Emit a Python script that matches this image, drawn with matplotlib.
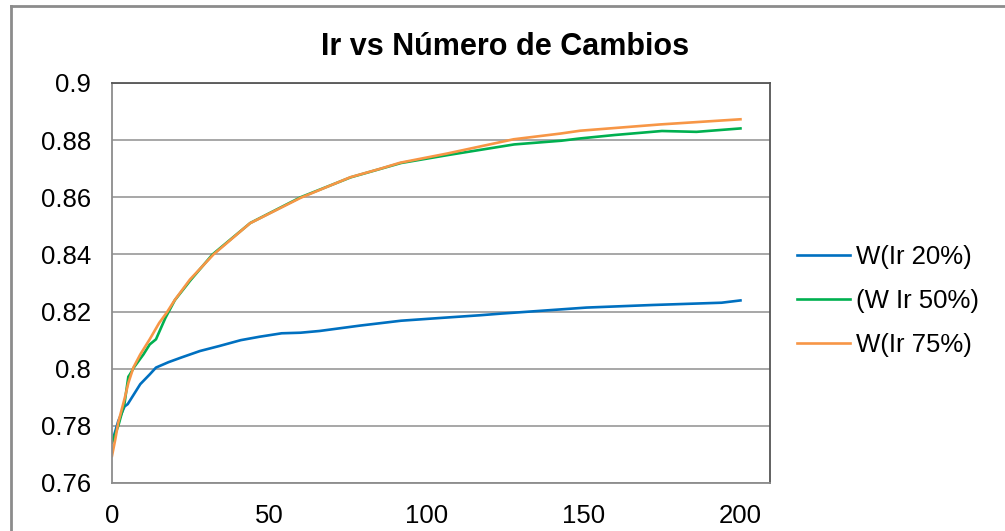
import matplotlib
matplotlib.use("Agg")
import matplotlib.pyplot as plt
from matplotlib.lines import Line2D

plt.rcParams['font.family'] = ['Liberation Sans', 'DejaVu Sans']

title = "Ir vs Número de Cambios"
labels = ["W(Ir 20%)", "(W Ir 50%)", "W(Ir 75%)"]
colors = ["#0070C0", "#00B050", "#F79646"]

x_ir20 = [0, 2, 4, 5, 7, 9, 12, 14, 18, 22, 28, 34, 41, 47, 54, 60, 66, 79, 92,
          105, 117, 124, 133, 151, 172, 194, 200]
y_ir20 = [0.7742, 0.7817, 0.7868, 0.7876, 0.7911, 0.7946, 0.7980, 0.8004, 0.8023,
          0.8039, 0.8062, 0.8079, 0.8100, 0.8112, 0.8124, 0.8126, 0.8132, 0.8151,
          0.8168, 0.8178, 0.8187, 0.8193, 0.8200, 0.8214, 0.8223, 0.8231, 0.8239]

x_ir50 = [0, 2, 2.5, 4, 5.2, 5.7, 7, 10, 12, 14, 17, 20, 25, 32, 44, 60, 76, 92,
          107, 128, 143, 149, 160, 175, 186, 200]
y_ir50 = [0.7742, 0.7800, 0.7820, 0.7880, 0.7972, 0.7980, 0.8005, 0.8050, 0.8085,
          0.8103, 0.8178, 0.8240, 0.8310, 0.8400, 0.8510, 0.8600, 0.8670, 0.8720,
          0.8748, 0.8785, 0.8798, 0.8806, 0.8818, 0.8832, 0.8829, 0.8841]

x_ir75 = [0, 1, 2, 4, 5.2, 6.8, 9, 12, 15, 17.4, 20, 24.8, 32.3, 43.9, 60, 75.8,
          85.4, 91.7, 106.6, 127.8, 142.7, 149, 174.5, 200]
y_ir75 = [0.7695, 0.7750, 0.7812, 0.7895, 0.7950, 0.8004, 0.8050, 0.8103, 0.8160,
          0.8196, 0.8241, 0.8312, 0.8400, 0.8509, 0.8598, 0.8670, 0.8700, 0.8721,
          0.8753, 0.8803, 0.8823, 0.8833, 0.8855, 0.8873]

x_ticks = [0, 50, 100, 150, 200]
y_ticks = [0.76, 0.78, 0.80, 0.82, 0.84, 0.86, 0.88, 0.90]
y_ticklabels = ["0.76", "0.78", "0.8", "0.82", "0.84", "0.86", "0.88", "0.9"]

W, H = 1005, 531
fig = plt.figure(figsize=(W / 100, H / 100), dpi=100)
ax = fig.add_axes([112 / W, 1 - 483 / H, (770 - 112) / W, (483 - 83) / H])

for xs, ys, c, lab in zip([x_ir20, x_ir50, x_ir75], [y_ir20, y_ir50, y_ir75], colors, labels):
    ax.plot(xs, ys, color=c, lw=1.9, label=lab, solid_joinstyle='round')

ax.set_xlim(0, 209.4)
ax.set_ylim(0.76, 0.90)
ax.set_xticks(x_ticks)
ax.set_yticks(y_ticks)
ax.set_yticklabels(y_ticklabels)
ax.tick_params(length=0, labelsize=18.5, colors="black")
ax.tick_params(axis='y', pad=15)
ax.tick_params(axis='x', pad=15)
ax.grid(axis='y', color="#A0A0A0", lw=1.3)
ax.set_axisbelow(True)
for s in ['left', 'bottom']:
    ax.spines[s].set_color("#8C8C8C")
    ax.spines[s].set_linewidth(1.3)
for s in ['top', 'right']:
    ax.spines[s].set_color("#555555")
    ax.spines[s].set_linewidth(1.3)

fig.text(505 / W, 1 - 55 / H, title, ha='center', va='baseline',
         fontsize=22, fontweight='bold')

fig.legend(loc='center left', bbox_to_anchor=(797 / W, 1 - 300.7 / H),
           frameon=False, fontsize=18.5, handlelength=2.06, handletextpad=0.22,
           labelspacing=0.78, borderpad=0, borderaxespad=0)

# outer chart border (partially visible)
fig.add_artist(Line2D([11 / W, 11 / W], [0, 1 - 6 / H], color="#8C8C8C", lw=2,
                      transform=fig.transFigure))
fig.add_artist(Line2D([11 / W, 1], [1 - 6 / H, 1 - 6 / H], color="#8C8C8C", lw=2,
                      transform=fig.transFigure))

fig.savefig("out.png", dpi=100)
